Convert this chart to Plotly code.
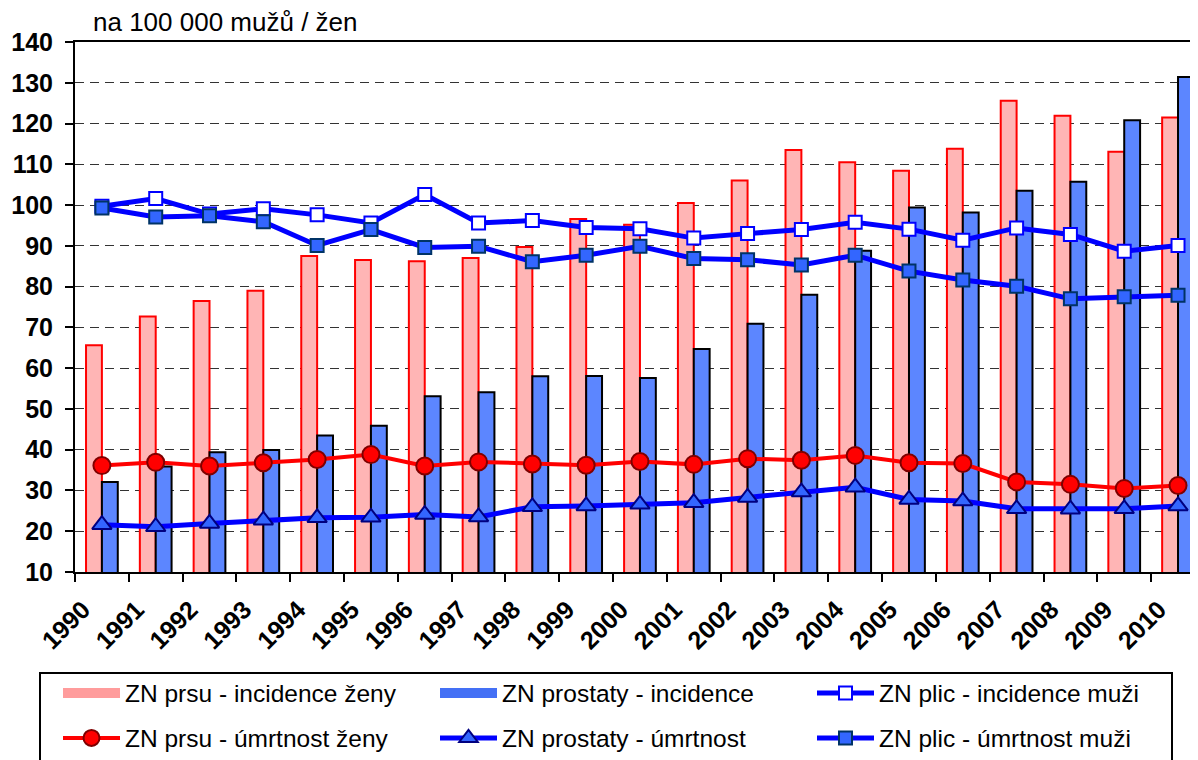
import plotly.graph_objects as go

years = ["1990", "1991", "1992", "1993", "1994", "1995", "1996", "1997", "1998", "1999", "2000",
         "2001", "2002", "2003", "2004", "2005", "2006", "2007", "2008", "2009", "2010"]

breast_inc = [65.6, 72.7, 76.5, 79.0, 87.5, 86.5, 86.2, 87.0, 89.7, 96.6, 95.2,
              100.5, 106.0, 113.5, 110.5, 108.4, 113.8, 125.6, 121.9, 113.1, 121.5]
prostate_inc = [32.1, 35.9, 39.4, 39.9, 43.5, 45.9, 53.1, 54.1, 58.0, 58.1, 57.6,
                64.7, 70.9, 78.0, 88.8, 99.4, 98.2, 103.5, 105.7, 120.8, 131.4]
lung_inc = [99.7, 101.6, 97.8, 99.1, 97.6, 95.6, 102.6, 95.6, 96.2, 94.5, 94.2,
            91.9, 93.0, 94.0, 95.8, 94.1, 91.4, 94.4, 92.8, 88.7, 90.1]
breast_mort = [36.1, 36.9, 36.0, 36.8, 37.6, 38.8, 36.0, 37.0, 36.5, 36.2, 37.1,
               36.4, 37.8, 37.4, 38.6, 36.8, 36.6, 32.1, 31.5, 30.5, 31.2]
prostate_mort = [21.6, 21.1, 21.9, 22.7, 23.3, 23.4, 24.1, 23.5, 26.0, 26.2, 26.6,
                 27.0, 28.3, 29.6, 30.8, 27.8, 27.4, 25.5, 25.4, 25.5, 26.2]
lung_mort = [99.3, 97.1, 97.4, 95.9, 90.1, 94.0, 89.6, 89.9, 86.1, 87.7, 89.9,
             86.9, 86.6, 85.3, 87.7, 83.8, 81.6, 80.1, 77.0, 77.5, 77.9]

names = ["ZN prsu - incidence ženy", "ZN prostaty - incidence", "ZN plic - incidence muži",
         "ZN prsu - úmrtnost ženy", "ZN prostaty - úmrtnost", "ZN plic - úmrtnost muži"]
y_title = "na 100 000 mužů / žen"

FONT = "Arial, Liberation Sans, sans-serif"
OFF = 8  # page body margin
W, H = 1198, 760
L, R, T = 67, 0, 34
B = H - (572 - OFF)
PW, PH = W - L - R, H - T - B

RED_FILL, RED_LINE = "#FFB5B5", "#FF0000"
BLUE_FILL = "#5C86FF"


def px_x(p):
    return (p - OFF - L) / PW


def px_y(p):
    return (H - B - (p - OFF)) / PH


fig = go.Figure()
fig.add_trace(go.Bar(x=years, y=breast_inc, name=names[0], showlegend=False,
                     marker=dict(color=RED_FILL, line=dict(color=RED_LINE, width=2))))
fig.add_trace(go.Bar(x=years, y=prostate_inc, name=names[1], showlegend=False,
                     marker=dict(color=BLUE_FILL, line=dict(color="#000000", width=2))))
# legend-only entries for the bar series (wide swatches as in the original)
fig.add_trace(go.Scatter(x=[None], y=[None], name=names[0], legend="legend", mode="lines",
                         line=dict(color="#FF9C9C", width=14), hoverinfo="skip"))
fig.add_trace(go.Scatter(x=[None], y=[None], name=names[1], legend="legend2", mode="lines",
                         line=dict(color="#4470F5", width=14), hoverinfo="skip"))
fig.add_trace(go.Scatter(x=years, y=lung_inc, name=names[2], legend="legend3", mode="lines+markers",
                         line=dict(color="#0000FF", width=5),
                         marker=dict(symbol="square", size=13, color="#FFFFFF",
                                     line=dict(color="#0000FF", width=2))))
fig.add_trace(go.Scatter(x=years, y=breast_mort, name=names[3], legend="legend4", mode="lines+markers",
                         line=dict(color="#FF0000", width=4),
                         marker=dict(symbol="circle", size=17, color="#FF0000",
                                     line=dict(color="#7F0000", width=2))))
fig.add_trace(go.Scatter(x=years, y=prostate_mort, name=names[4], legend="legend5", mode="lines+markers",
                         line=dict(color="#0000FF", width=5),
                         marker=dict(symbol="triangle-up", size=17, color="#3366FF",
                                     line=dict(color="#000080", width=2))))
fig.add_trace(go.Scatter(x=years, y=lung_mort, name=names[5], legend="legend6", mode="lines+markers",
                         line=dict(color="#0000FF", width=5),
                         marker=dict(symbol="square", size=13, color="#3366FF",
                                     line=dict(color="#003366", width=2))))

leg_common = dict(orientation="h", xanchor="left", yanchor="middle",
                  font=dict(family=FONT, size=24.5, color="#000000"),
                  bgcolor="rgba(0,0,0,0)", borderwidth=0, itemwidth=57)

col_x = [58, 435, 812]
row_y = [693, 738]
legends = {}
for i in range(6):
    key = "legend" if i == 0 else f"legend{i + 1}"
    legends[key] = dict(x=px_x(col_x[i % 3]), y=px_y(row_y[i // 3]), **leg_common)

fig.update_layout(
    width=W, height=H,
    margin=dict(l=L, r=R, t=T, b=B),
    paper_bgcolor="#FFFFFF", plot_bgcolor="#FFFFFF",
    barmode="group", bargap=0.41, bargroupgap=0,
    font=dict(family=FONT, color="#000000"),
    xaxis=dict(type="category", range=[-0.5, 20.52], tickson="boundaries",
               ticks="outside", ticklen=8, tickwidth=2, tickcolor="#000000",
               showline=True, linewidth=2, linecolor="#000000", mirror=True,
               tickangle=-45, ticklabelstandoff=11, ticklabelshift=-19,
               tickfont=dict(family=FONT, size=25, color="#000000", weight="bold"),
               showgrid=False),
    yaxis=dict(range=[10, 140], dtick=10, tick0=10, ticks="outside", ticklen=8, tickwidth=2,
               tickcolor="#000000", showline=True, linewidth=2, linecolor="#000000",
               ticklabelstandoff=7,
               tickfont=dict(family=FONT, size=25, color="#000000", weight="bold"),
               showgrid=True, gridcolor="#333333", gridwidth=1, griddash="9px,6px",
               zeroline=False),
    shapes=[dict(type="rect", xref="paper", yref="paper",
                 x0=px_x(40), x1=px_x(1172), y0=px_y(673), y1=px_y(790),
                 line=dict(color="#000000", width=2), fillcolor="rgba(0,0,0,0)", layer="below")],
    annotations=[dict(text=y_title, xref="paper", yref="paper", x=px_x(91), y=px_y(22),
                      xanchor="left", yanchor="middle", showarrow=False,
                      font=dict(family=FONT, size=26, color="#000000"))],
    **legends,
)

fig.write_html("out.html")
